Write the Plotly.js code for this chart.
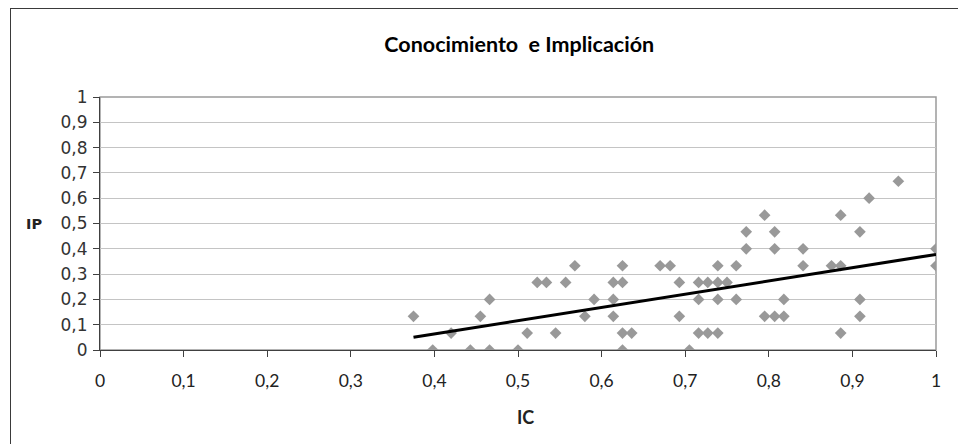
<!DOCTYPE html>
<html>
<head>
<meta charset="utf-8">
<script src="https://cdn.plot.ly/plotly-3.0.1.min.js"></script>
<style>
  html, body { margin: 0; padding: 0; background: #fff; overflow: hidden; }
  #frame { position: absolute; left: 10px; top: 8px; width: 970px; height: 460px; border: 1px solid #3a3a3a; box-sizing: border-box; }
  #chart { position: absolute; left: 0; top: 0; width: 958px; height: 444px; }
</style>
</head>
<body>
<div id="frame"></div>
<div id="chart"></div>
<script>
// IC (x) and IP (y) values
const IC = [
  0.375, 0.398, 0.420, 0.443, 0.455, 0.466, 0.466, 0.500, 0.511,
  0.523, 0.534, 0.545, 0.557, 0.568, 0.580, 0.591,
  0.614, 0.614, 0.614, 0.625, 0.625, 0.625, 0.625, 0.636,
  0.670, 0.682, 0.693, 0.693, 0.705,
  0.716, 0.716, 0.716, 0.727, 0.727, 0.739, 0.739, 0.739, 0.739, 0.750, 0.761, 0.761,
  0.773, 0.773, 0.795, 0.795, 0.807, 0.807, 0.807, 0.818, 0.818, 0.841, 0.841,
  0.875, 0.886, 0.886, 0.886, 0.909, 0.909, 0.909, 0.920, 0.955, 1.000, 1.000
];
const IP = [
  0.133, 0.000, 0.067, 0.000, 0.133, 0.200, 0.000, 0.000, 0.067,
  0.267, 0.267, 0.067, 0.267, 0.333, 0.133, 0.200,
  0.267, 0.200, 0.133, 0.333, 0.267, 0.067, 0.000, 0.067,
  0.333, 0.333, 0.267, 0.133, 0.000,
  0.267, 0.200, 0.067, 0.267, 0.067, 0.333, 0.267, 0.200, 0.067, 0.267, 0.333, 0.200,
  0.467, 0.400, 0.533, 0.133, 0.467, 0.400, 0.133, 0.200, 0.133, 0.400, 0.333,
  0.333, 0.533, 0.333, 0.067, 0.467, 0.200, 0.133, 0.600, 0.667, 0.400, 0.333
];
// Linear trendline as drawn in the reference (end points)
const trendIC = [0.375, 1.000];
const trendIP = [0.050, 0.378];

const xTicks = [0, 0.1, 0.2, 0.3, 0.4, 0.5, 0.6, 0.7, 0.8, 0.9, 1];
const yTicks = [0, 0.1, 0.2, 0.3, 0.4, 0.5, 0.6, 0.7, 0.8, 0.9, 1];

const narrow = 'Lato, "Open Sans", sans-serif';
const wide = '"DejaVu Sans", Verdana, sans-serif';

const traces = [
  {
    x: IC, y: IP, type: 'scatter', mode: 'markers',
    marker: { symbol: 'diamond', size: 9, color: '#999999', line: { width: 0 } },
    hoverinfo: 'x+y', showlegend: false
  },
  {
    x: trendIC, y: trendIP, type: 'scatter', mode: 'lines',
    line: { color: '#000', width: 3 }, hoverinfo: 'skip', showlegend: false
  }
];

const layout = {
  width: 958, height: 444,
  margin: { l: 100, r: 22, t: 97, b: 94 },
  paper_bgcolor: 'rgba(0,0,0,0)', plot_bgcolor: '#fff',
  separators: ',.',
  title: {
    text: '<b>Conocimiento\u00a0 e Implicación</b>',
    font: { family: narrow, size: 21.5, color: '#000' },
    x: 0.542, xanchor: 'center', y: 0.9, yanchor: 'middle', yref: 'container'
  },
  xaxis: {
    range: [0, 1], tickvals: xTicks, ticks: 'outside', ticklen: 6, tickcolor: '#404040',
    showline: true, linecolor: '#404040', linewidth: 1, showgrid: false, zeroline: false,
    ticklabelstandoff: 9,
    tickfont: { family: narrow, size: 17.5, color: '#222' }, fixedrange: true
  },
  yaxis: {
    range: [0, 1], tickvals: yTicks, ticks: 'outside', ticklen: 6, tickcolor: '#404040',
    showline: true, linecolor: '#404040', linewidth: 1, showgrid: true, gridcolor: '#c4c4c4',
    zeroline: false, ticklabelstandoff: 2,
    tickfont: { family: wide, size: 17, color: '#333' }, fixedrange: true
  },
  shapes: [
    { type: 'rect', xref: 'paper', yref: 'paper', x0: 0, x1: 1, y0: 0, y1: 1,
      line: { color: '#9a9a9a', width: 1.5 }, layer: 'below' }
  ],
  annotations: [
    { text: '<b>IP</b>', xref: 'paper', yref: 'paper', x: -0.0795, y: 0.5, showarrow: false,
      xanchor: 'center', yanchor: 'middle', font: { family: wide, size: 14.5, color: '#222' } },
    { text: '<b>IC</b>', xref: 'paper', yref: 'paper', x: 0.509, y: -0.265, showarrow: false,
      xanchor: 'center', yanchor: 'middle', font: { family: narrow, size: 18, color: '#222' } }
  ]
};

Plotly.newPlot('chart', traces, layout, { displayModeBar: false, staticPlot: true });
</script>
</body>
</html>
